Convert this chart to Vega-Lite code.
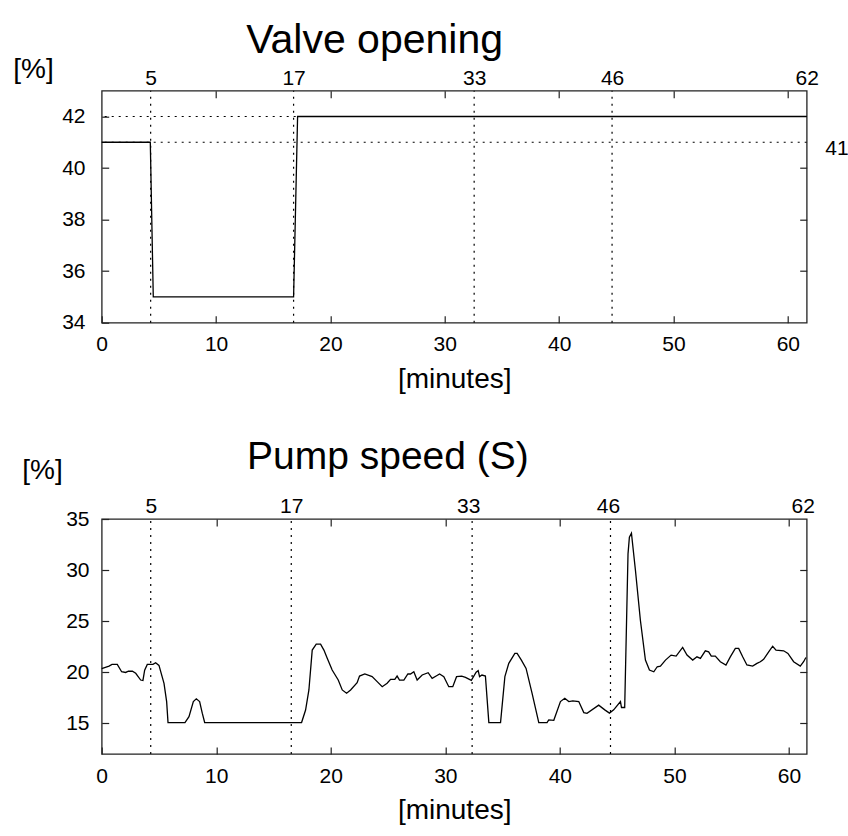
{
  "$schema": "https://vega.github.io/schema/vega-lite/v6.json",
  "autosize": {"type": "none"},
  "padding": {"left": 101.7, "top": 90.7, "right": 746.3, "bottom": 745.3},
  "background": "white",
  "config": {
    "font": "Liberation Sans",
    "view": {"stroke": "#222", "strokeWidth": 1.3},
    "axis": {"domain": false, "grid": false, "labelFont": "Liberation Sans", "labelFontSize": 21, "labelColor": "black", "tickColor": "#222", "tickSize": -7, "tickWidth": 1.2, "titleFont": "Liberation Sans", "titleFontSize": 28, "titleFontWeight": "normal", "titleColor": "black", "labelFlush": false, "labelOverlap": false, "labelBound": false},
    "title": {"font": "Liberation Sans", "fontSize": 41, "fontWeight": "normal", "color": "black", "anchor": "start", "frame": "group", "offset": 0}
  },
  "datasets": {
    "valve": [{"t": 0, "v": 41}, {"t": 4.25, "v": 41}, {"t": 4.51, "v": 35}, {"t": 16.78, "v": 35}, {"t": 17.13, "v": 42}, {"t": 61.65, "v": 42}],
    "levels": [{"v": 41}, {"v": 42}],
    "eventsTop": [{"t": 4.28}, {"t": 16.78}, {"t": 32.57}, {"t": 44.63}],
    "eventsBottom": [{"t": 4.28}, {"t": 16.55}, {"t": 32.34}, {"t": 44.42}],
    "pump": [{"t":0,"v":20.35},{"t":0.64,"v":20.6},{"t":0.9,"v":20.77},{"t":1.36,"v":20.77},{"t":1.74,"v":20.05},{"t":2.09,"v":19.98},{"t":2.33,"v":20.1},{"t":2.68,"v":20.1},{"t":2.97,"v":19.9},{"t":3.4,"v":19.24},{"t":3.6,"v":19.2},{"t":3.75,"v":20.2},{"t":3.98,"v":20.77},{"t":4.48,"v":20.77},{"t":4.71,"v":20.93},{"t":5.0,"v":20.67},{"t":5.44,"v":18.92},{"t":5.67,"v":17.13},{"t":5.79,"v":15.08},{"t":7.27,"v":15.08},{"t":7.62,"v":15.66},{"t":8.0,"v":17.13},{"t":8.26,"v":17.4},{"t":8.55,"v":17.13},{"t":8.78,"v":16.0},{"t":8.99,"v":15.08},{"t":17.45,"v":15.08},{"t":17.8,"v":16.3},{"t":18.09,"v":18.27},{"t":18.38,"v":22.17},{"t":18.73,"v":22.75},{"t":19.11,"v":22.75},{"t":19.4,"v":22.17},{"t":19.69,"v":21.36},{"t":20.12,"v":20.22},{"t":20.65,"v":19.24},{"t":21.0,"v":18.27},{"t":21.38,"v":17.95},{"t":21.73,"v":18.27},{"t":22.3,"v":18.98},{"t":22.51,"v":19.63},{"t":22.97,"v":19.83},{"t":23.61,"v":19.57},{"t":24.05,"v":19.08},{"t":24.49,"v":18.59},{"t":24.92,"v":18.92},{"t":25.22,"v":19.31},{"t":25.59,"v":19.31},{"t":25.79,"v":19.63},{"t":26.0,"v":19.24},{"t":26.38,"v":19.24},{"t":26.73,"v":19.83},{"t":26.96,"v":19.83},{"t":27.25,"v":20.05},{"t":27.54,"v":19.24},{"t":27.98,"v":19.73},{"t":28.5,"v":19.96},{"t":28.85,"v":19.4},{"t":29.2,"v":19.63},{"t":29.5,"v":19.83},{"t":29.87,"v":19.57},{"t":30.3,"v":18.59},{"t":30.65,"v":18.59},{"t":30.98,"v":19.57},{"t":31.43,"v":19.63},{"t":31.76,"v":19.5},{"t":32.27,"v":19.2},{"t":32.69,"v":20.0},{"t":32.87,"v":20.15},{"t":32.99,"v":19.57},{"t":33.2,"v":19.73},{"t":33.5,"v":19.63},{"t":33.8,"v":15.08},{"t":34.82,"v":15.08},{"t":35.2,"v":19.57},{"t":35.54,"v":20.87},{"t":36.07,"v":21.84},{"t":36.27,"v":21.84},{"t":36.64,"v":21.19},{"t":37.05,"v":20.38},{"t":37.57,"v":17.95},{"t":38.16,"v":15.08},{"t":38.88,"v":15.08},{"t":39.03,"v":15.34},{"t":39.47,"v":15.3},{"t":40.05,"v":17.13},{"t":40.43,"v":17.45},{"t":40.78,"v":17.13},{"t":41.13,"v":17.2},{"t":41.65,"v":17.13},{"t":42.09,"v":16.05},{"t":42.37,"v":15.98},{"t":43.39,"v":16.78},{"t":43.92,"v":16.32},{"t":44.33,"v":16.0},{"t":44.7,"v":16.32},{"t":45.29,"v":17.13},{"t":45.38,"v":16.55},{"t":45.66,"v":16.55},{"t":45.95,"v":31.59},{"t":46.07,"v":33.21},{"t":46.25,"v":33.6},{"t":46.6,"v":29.96},{"t":47.03,"v":25.09},{"t":47.47,"v":21.19},{"t":47.82,"v":20.22},{"t":48.2,"v":20.05},{"t":48.5,"v":20.54},{"t":48.78,"v":20.6},{"t":49.22,"v":21.19},{"t":49.71,"v":21.68},{"t":50.15,"v":21.58},{"t":50.72,"v":22.43},{"t":51.1,"v":21.68},{"t":51.6,"v":21.19},{"t":51.97,"v":21.51},{"t":52.27,"v":21.36},{"t":52.7,"v":22.1},{"t":52.99,"v":22.0},{"t":53.22,"v":21.58},{"t":53.57,"v":21.58},{"t":54.01,"v":21.03},{"t":54.5,"v":20.71},{"t":54.88,"v":21.51},{"t":55.32,"v":22.33},{"t":55.61,"v":22.33},{"t":55.96,"v":21.51},{"t":56.33,"v":20.71},{"t":56.83,"v":20.6},{"t":57.21,"v":20.87},{"t":57.5,"v":21.03},{"t":57.79,"v":21.26},{"t":58.23,"v":22.0},{"t":58.58,"v":22.55},{"t":58.87,"v":22.17},{"t":59.54,"v":22.1},{"t":59.91,"v":21.84},{"t":60.41,"v":21.03},{"t":60.99,"v":20.6},{"t":61.28,"v":21.03},{"t":61.48,"v":21.45}]
  },
  "bounds": "flush",
  "spacing": 196.3,
  "vconcat": [
    {
      "width": 705,
      "height": 232,
      "title": {"text": "Valve opening", "dx": 144.5, "dy": 11, "fontSize": 41},
      "layer": [
        {
          "data": {"name": "levels"},
          "mark": {"type": "rule", "strokeDash": [2, 5], "color": "black", "strokeWidth": 1.2},
          "encoding": {"y": {"field": "v", "type": "quantitative", "scale": {"domain": [34, 43], "nice": false}, "axis": null}}
        },
        {
          "data": {"name": "eventsTop"},
          "mark": {"type": "rule", "strokeDash": [2, 5], "color": "black", "strokeWidth": 1.2},
          "encoding": {
            "x": {"field": "t", "type": "quantitative", "scale": {"domain": [0, 61.65], "nice": false, "zero": false},
              "axis": {"orient": "top", "values": [4.28, 10, 16.78, 20, 30, 32.57, 40, 44.63, 50, 60, 61.65],
                "labelExpr": "datum.value === 4.28 ? '5' : datum.value === 16.78 ? '17' : datum.value === 32.57 ? '33' : datum.value === 44.63 ? '46' : datum.value === 61.65 ? '62' : ''",
                "tickOpacity": {"condition": {"test": "datum.value % 10 === 0", "value": 1}, "value": 0},
                "labelBaseline": "alphabetic", "labelPadding": 13.5, "title": null}},
            "y": {"datum": 34, "type": "quantitative",
              "axis": {"orient": "right", "values": [36, 38, 40, 41],
                "labelExpr": "datum.value === 41 ? '41' : ''",
                "tickOpacity": {"condition": {"test": "datum.value === 41", "value": 0}, "value": 1},
                "labelAlign": "left", "labelBaseline": "middle", "labelOffset": 6, "labelPadding": 25, "title": null}},
            "y2": {"datum": 43}
          }
        },
        {
          "data": {"name": "valve"},
          "mark": {"type": "line", "color": "black", "strokeWidth": 1.3},
          "encoding": {
            "x": {"field": "t", "type": "quantitative", "scale": {"domain": [0, 61.65], "nice": false},
              "axis": {"orient": "bottom", "values": [0, 10, 20, 30, 40, 50, 60], "labelBaseline": "alphabetic", "labelPadding": 35, "title": "[minutes]", "titleBaseline": "alphabetic", "titleY": 65}},
            "y": {"field": "v", "type": "quantitative", "scale": {"domain": [34, 43], "nice": false},
              "axis": {"orient": "left", "values": [34, 36, 38, 40, 42], "labelPadding": 23.7, "title": "[%]", "titleAngle": 0, "titleAlign": "center", "titleBaseline": "alphabetic", "titleX": -68.7, "titleY": -13.3}}
          }
        }
      ],
      "resolve": {"axis": {"x": "independent", "y": "independent"}}
    },
    {
      "width": 705,
      "height": 235,
      "title": {"text": "Pump speed (S)", "dx": 145.3, "dy": 24, "fontSize": 39},
      "layer": [
        {
          "data": {"name": "eventsBottom"},
          "mark": {"type": "rule", "strokeDash": [2, 5], "color": "black", "strokeWidth": 1.2},
          "encoding": {
            "x": {"field": "t", "type": "quantitative", "scale": {"domain": [0, 61.55], "nice": false},
              "axis": {"orient": "top", "values": [4.28, 10, 16.55, 20, 30, 32.0, 40, 44.2, 50, 60, 61.2],
                "labelExpr": "datum.value === 4.28 ? '5' : datum.value === 16.55 ? '17' : datum.value === 32.0 ? '33' : datum.value === 44.2 ? '46' : datum.value === 61.2 ? '62' : ''",
                "tickOpacity": {"condition": {"test": "datum.value % 10 === 0", "value": 1}, "value": 0},
                "labelBaseline": "alphabetic", "labelPadding": 13.5, "title": null}},
            "y": {"datum": 12, "type": "quantitative", "scale": {"domain": [12, 35], "nice": false},
              "axis": {"orient": "right", "values": [15, 20, 25, 30], "labels": false, "title": null}},
            "y2": {"datum": 35}
          }
        },
        {
          "data": {"name": "pump"},
          "mark": {"type": "line", "color": "black", "strokeWidth": 1.3},
          "encoding": {
            "x": {"field": "t", "type": "quantitative", "scale": {"domain": [0, 61.55], "nice": false},
              "axis": {"orient": "bottom", "values": [0, 10, 20, 30, 40, 50, 60], "labelBaseline": "alphabetic", "labelPadding": 35, "title": "[minutes]", "titleBaseline": "alphabetic", "titleY": 64}},
            "y": {"field": "v", "type": "quantitative", "scale": {"domain": [12, 35], "nice": false},
              "axis": {"orient": "left", "values": [15, 20, 25, 30, 35], "labelPadding": 19.7, "title": "[%]", "titleAngle": 0, "titleAlign": "center", "titleBaseline": "alphabetic", "titleX": -59.7, "titleY": -40.3}}
          }
        }
      ],
      "resolve": {"axis": {"x": "independent", "y": "independent"}}
    }
  ]
}
